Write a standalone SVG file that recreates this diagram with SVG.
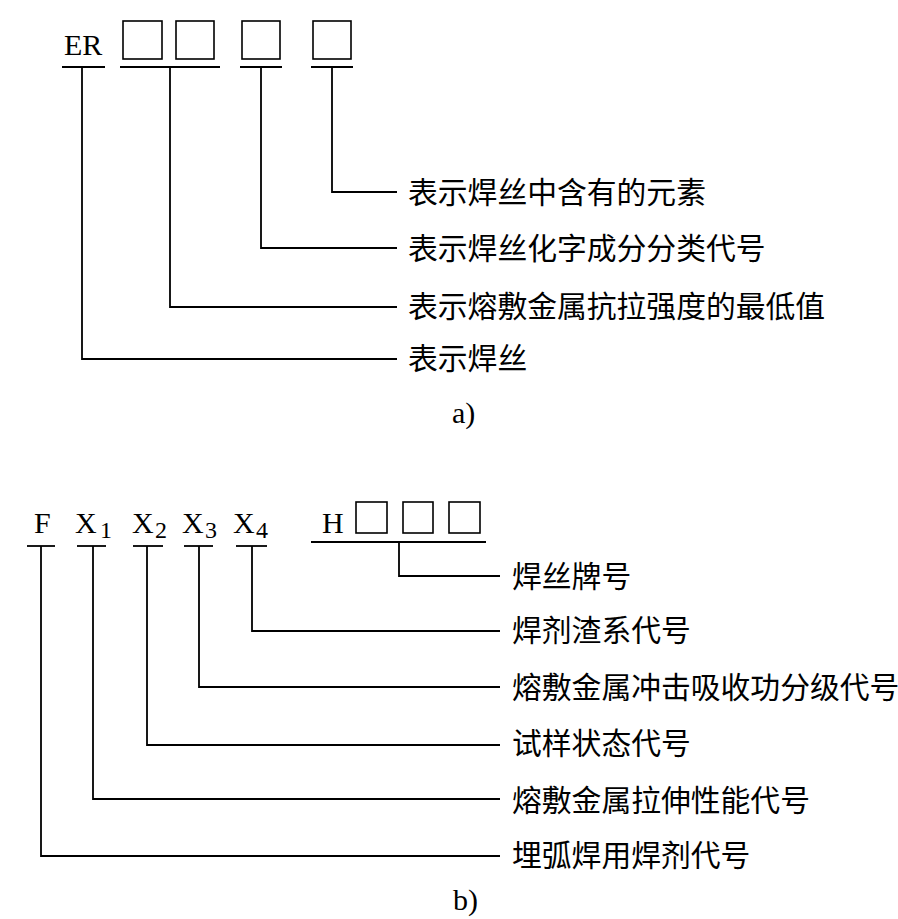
<svg xmlns="http://www.w3.org/2000/svg" width="898" height="919" viewBox="0 0 898 919">
<style>
.ln{stroke:#000;stroke-width:1.8;fill:none}
.bx{stroke:#000;stroke-width:1.6;fill:#fff}
.lat{font-family:"Liberation Serif","Times New Roman",serif;font-size:30px;fill:#000}
.sub{font-family:"Liberation Serif","Times New Roman",serif;font-size:24px;fill:#000}
.cjk{font-family:"Noto Sans CJK SC","Noto Sans CJK JP",sans-serif;font-size:29.8px;fill:#000}
</style>
<rect width="898" height="919" fill="#fff"/>
<g id="partA">
  <g id="ER"><text class="lat" x="64" y="55">ER</text><path class="ln" d="M62 67H105"/></g>
  <g id="boxes12"><rect class="bx" x="123" y="21" width="39" height="38"/><rect class="bx" x="176" y="21" width="38" height="38"/><path class="ln" d="M120 67H220"/></g>
  <g id="box3"><rect class="bx" x="242" y="21" width="38" height="38"/><path class="ln" d="M240 67H282"/></g>
  <g id="box4"><rect class="bx" x="313" y="21" width="38" height="38"/><path class="ln" d="M311 67H353"/></g>
  <g id="labA1"><text class="cjk" x="408" y="203">表示焊丝中含有的元素</text></g>
  <g id="labA2"><text class="cjk" x="408" y="259">表示焊丝化字成分分类代号</text></g>
  <g id="labA3"><text class="cjk" x="408" y="317">表示熔敷金属抗拉强度的最低值</text></g>
  <g id="labA4"><text class="cjk" x="408" y="369">表示焊丝</text></g>
  <g id="capA"><text class="lat" x="452" y="423" font-size="28">a)</text></g>
</g>
<g id="connectorsA">
  <path class="ln" d="M332 67V192H397"/>
  <path class="ln" d="M261 67V248H397"/>
  <path class="ln" d="M170 67V307H397"/>
  <path class="ln" d="M82 67V359H397" stroke-width="2.2"/>
</g>
<g id="partB">
  <g id="F"><text class="lat" x="34" y="533">F</text><path class="ln" d="M27 546H55"/></g>
  <g id="X1"><text class="lat" x="75" y="533">X</text><text class="sub" x="100" y="538">1</text><path class="ln" d="M77 546H106"/></g>
  <g id="X2"><text class="lat" x="132" y="533">X</text><text class="sub" x="155" y="538">2</text><path class="ln" d="M133 546H163"/></g>
  <g id="X3"><text class="lat" x="182" y="533">X</text><text class="sub" x="205" y="538">3</text><path class="ln" d="M184 546H213"/></g>
  <g id="X4"><text class="lat" x="233" y="533">X</text><text class="sub" x="256" y="538">4</text><path class="ln" d="M236 546H267"/></g>
  <g id="H"><text class="lat" x="322" y="533">H</text><rect class="bx" x="356" y="502" width="31" height="31"/><rect class="bx" x="403" y="502" width="30" height="31"/><rect class="bx" x="449" y="502" width="31" height="31"/><path class="ln" d="M311 542H486"/></g>
  <g id="labB1"><text class="cjk" x="512" y="587">焊丝牌号</text></g>
  <g id="labB2"><text class="cjk" x="512" y="641">焊剂渣系代号</text></g>
  <g id="labB3"><text class="cjk" x="512" y="698">熔敷金属冲击吸收功分级代号</text></g>
  <g id="labB4"><text class="cjk" x="512" y="754">试样状态代号</text></g>
  <g id="labB5"><text class="cjk" x="512" y="811">熔敷金属拉伸性能代号</text></g>
  <g id="labB6"><text class="cjk" x="512" y="866">埋弧焊用焊剂代号</text></g>
  <g id="capB"><text class="lat" x="453" y="910" font-size="28">b)</text></g>
</g>
<g id="connectorsB">
  <path class="ln" d="M399 542V576H500"/>
  <path class="ln" d="M252 546V631H500"/>
  <path class="ln" d="M199 546V687H500"/>
  <path class="ln" d="M147 546V745H500"/>
  <path class="ln" d="M93 546V799H500"/>
  <path class="ln" d="M41 546V856H500" stroke-width="2.2"/>
</g>
</svg>
